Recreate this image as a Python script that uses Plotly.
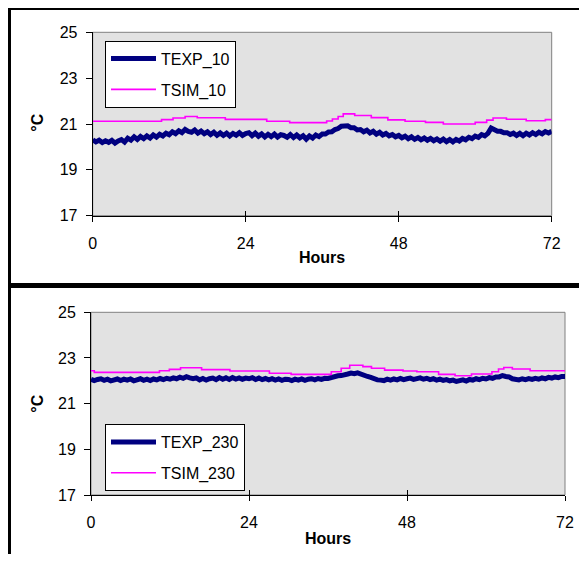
import plotly.graph_objects as go

# page body has an 8px default margin; figure is sized so the page fits the window
OX, OY = 8, 8
W, H = 579, 546

# ---------------- data ----------------
hours = [0.5 * i for i in range(145)]

texp_10 = [
    20.31, 20.22, 20.29, 20.19, 20.27, 20.20, 20.29, 20.17, 20.26, 20.32, 20.21, 20.38,
    20.30, 20.44, 20.33, 20.46, 20.36, 20.48, 20.39, 20.52, 20.43, 20.55, 20.48, 20.60,
    20.53, 20.66, 20.58, 20.70, 20.62, 20.76, 20.68, 20.64, 20.74, 20.60, 20.69, 20.58,
    20.66, 20.54, 20.64, 20.51, 20.61, 20.50, 20.60, 20.48, 20.59, 20.51, 20.62, 20.50,
    20.58, 20.62, 20.49, 20.60, 20.47, 20.57, 20.44, 20.55, 20.45, 20.56, 20.43, 20.53,
    20.50, 20.42, 20.54, 20.41, 20.52, 20.40, 20.49, 20.34, 20.48, 20.39, 20.52, 20.45,
    20.56, 20.56, 20.65, 20.66, 20.76, 20.80, 20.90, 20.93, 20.92, 20.84, 20.84, 20.74,
    20.76, 20.66, 20.73, 20.61, 20.68, 20.56, 20.64, 20.52, 20.59, 20.48, 20.54, 20.44,
    20.50, 20.40, 20.47, 20.36, 20.44, 20.33, 20.41, 20.31, 20.39, 20.29, 20.37, 20.27,
    20.35, 20.25, 20.34, 20.23, 20.32, 20.22, 20.33, 20.26, 20.37, 20.31, 20.42, 20.36,
    20.47, 20.42, 20.54, 20.48, 20.59, 20.82, 20.76, 20.68, 20.68, 20.62, 20.62, 20.54,
    20.60, 20.50, 20.59, 20.49, 20.60, 20.52, 20.62, 20.54, 20.64, 20.57, 20.67, 20.61,
    20.68,
]

texp_230 = [
    22.07, 22.01, 22.06, 22.09, 22.02, 22.07, 22.00, 22.06, 22.08, 22.01, 22.07, 22.03,
    22.08, 22.00, 22.06, 22.09, 22.02, 22.07, 22.01, 22.08, 22.04, 22.10, 22.05, 22.11,
    22.07, 22.13, 22.09, 22.16, 22.11, 22.18, 22.13, 22.09, 22.13, 22.04, 22.10, 22.03,
    22.09, 22.12, 22.05, 22.14, 22.07, 22.13, 22.06, 22.14, 22.08, 22.13, 22.07, 22.12,
    22.09, 22.14, 22.06, 22.12, 22.05, 22.10, 22.04, 22.09, 22.03, 22.08, 22.02, 22.07,
    22.06, 22.01, 22.07, 22.03, 22.08, 22.02, 22.07, 22.09, 22.04, 22.10, 22.06, 22.11,
    22.10, 22.15, 22.16, 22.22, 22.23, 22.29, 22.30, 22.34, 22.31, 22.35, 22.28, 22.27,
    22.19, 22.15, 22.07, 22.04, 22.03, 22.01, 22.07, 22.03, 22.08, 22.04, 22.10, 22.05,
    22.09, 22.12, 22.06, 22.11, 22.13, 22.07, 22.11, 22.05, 22.09, 22.03, 22.07, 22.02,
    22.05, 22.00, 22.03, 21.97, 22.02, 22.04, 21.99, 22.06, 22.03, 22.09, 22.05, 22.11,
    22.08, 22.14, 22.11, 22.17, 22.17, 22.23, 22.19, 22.17, 22.09, 22.04, 22.04, 22.09,
    22.05, 22.10, 22.06, 22.11, 22.07, 22.13, 22.09, 22.15, 22.12, 22.17, 22.14, 22.19,
    22.19,
]

tsim_10_t = [0, 10.8, 12.6, 14.5, 16.4, 20.8, 27.3, 30.9, 36.7, 37.6, 38.5, 39.3,
             41.1, 43.7, 46.3, 49.0, 52.2, 55.0, 60.0, 61.8, 62.8, 64.9, 68.0, 71.0, 72.0]
tsim_10_v = [21.12, 21.19, 21.26, 21.33, 21.27, 21.20, 21.12, 21.06, 21.13, 21.22, 21.33, 21.44,
             21.37, 21.28, 21.18, 21.12, 21.07, 21.00, 21.07, 21.17, 21.26, 21.21, 21.14, 21.19, 21.19]

tsim_230_t = [0, 0.5, 10.4, 11.9, 13.6, 16.8, 21.1, 27.1, 30.4, 36.5, 38.0, 39.3, 41.3,
              42.6, 44.6, 47.4, 49.5, 52.8, 55.3, 57.8, 60.9, 61.9, 62.7, 64.0, 66.7, 72.0]
tsim_230_v = [22.44, 22.37, 22.44, 22.50, 22.57, 22.49, 22.43, 22.33, 22.28, 22.40, 22.55, 22.68, 22.62,
              22.55, 22.47, 22.43, 22.40, 22.28, 22.22, 22.30, 22.40, 22.52, 22.58, 22.52, 22.44, 22.44]

x_ticks = [0, 24, 48, 72]
y_ticks = [17, 19, 21, 23, 25]

NAVY = "#000080"
MAGENTA = "#FF00FF"
BG = "#e2e2e2"
FONT = "Liberation Sans, Arial, sans-serif"

fig = go.Figure()

fig.add_trace(go.Scatter(x=hours, y=texp_10, name="TEXP_10", mode="lines",
                         line=dict(color=NAVY, width=5), xaxis="x", yaxis="y",
                         legend="legend", legendgroup="a"))
fig.add_trace(go.Scatter(x=tsim_10_t, y=tsim_10_v, name="TSIM_10", mode="lines",
                         line=dict(color=MAGENTA, width=1.6, shape="hv"), xaxis="x", yaxis="y",
                         legend="legend", legendgroup="b"))
fig.add_trace(go.Scatter(x=hours, y=texp_230, name="TEXP_230", mode="lines",
                         line=dict(color=NAVY, width=5), xaxis="x2", yaxis="y2",
                         legend="legend2", legendgroup="c"))
fig.add_trace(go.Scatter(x=tsim_230_t, y=tsim_230_v, name="TSIM_230", mode="lines",
                         line=dict(color=MAGENTA, width=1.6, shape="hv"), xaxis="x2", yaxis="y2",
                         legend="legend2", legendgroup="d"))
# empty traces to activate the overlay axes (inner half of crossing ticks)
fig.add_trace(go.Scatter(x=[], y=[], xaxis="x3", yaxis="y", showlegend=False))
fig.add_trace(go.Scatter(x=[], y=[], xaxis="x4", yaxis="y2", showlegend=False))


def px_x(p):
    return (p - OX) / W


def px_y(p):
    return 1 - (p - OY) / H


top_dom_x = [px_x(92.7), px_x(551.7)]
top_dom_y = [px_y(215.7), px_y(32.3)]
bot_dom_x = [px_x(91), px_x(565)]
bot_dom_y = [px_y(495), px_y(312.3)]

tickfont = dict(family=FONT, size=16, color="black")

xcommon = dict(range=[0, 72], tickvals=x_ticks, ticks="outside", ticklen=5, tickcolor="black",
               showline=True, linecolor="black", linewidth=1, showgrid=False, zeroline=False,
               tickfont=tickfont, ticklabelstandoff=8, fixedrange=True, automargin=False)
ycommon = dict(range=[17, 25], tickvals=y_ticks, ticks="outside", ticklen=6, tickcolor="black",
               showline=True, linecolor="black", linewidth=1, showgrid=False, zeroline=False,
               tickfont=tickfont, ticklabelstandoff=5, fixedrange=True, automargin=False)
xinner = dict(range=[0, 72], tickvals=x_ticks, ticks="inside", ticklen=5, tickcolor="black",
              showline=False, showgrid=False, zeroline=False, showticklabels=False,
              fixedrange=True, automargin=False)

legcommon = dict(bgcolor="white", bordercolor="black", borderwidth=1,
                 font=dict(family=FONT, size=16, color="black"),
                 tracegroupgap=7, itemwidth=45, xanchor="left", yanchor="top")

fig.update_layout(
    width=W, height=H,
    margin=dict(l=0, r=0, t=0, b=0, pad=0),
    paper_bgcolor="white", plot_bgcolor=BG,
    xaxis=dict(domain=top_dom_x, anchor="y", **xcommon),
    yaxis=dict(domain=top_dom_y, anchor="x", **ycommon),
    xaxis2=dict(domain=bot_dom_x, anchor="y2", **xcommon),
    yaxis2=dict(domain=bot_dom_y, anchor="x2", **ycommon),
    xaxis3=dict(overlaying="x", anchor="y", **xinner),
    xaxis4=dict(overlaying="x2", anchor="y2", **xinner),
    legend=dict(x=px_x(105), y=px_y(40.7), **legcommon),
    legend2=dict(x=px_x(105), y=px_y(424), **legcommon),
    showlegend=True,
)

shapes = []
# gray frame of each plot area (top and right edges)
for xr, yr in (("x domain", "y domain"), ("x2 domain", "y2 domain")):
    shapes.append(dict(type="rect", xref=xr, yref=yr, x0=0, x1=1, y0=0, y1=1,
                       line=dict(color="#808080", width=1), layer="below"))
# outer panel borders
shapes.append(dict(type="rect", xref="paper", yref="paper",
                   x0=px_x(9.5), x1=px_x(585.5), y0=px_y(284.5), y1=px_y(8.5),
                   line=dict(color="black", width=3)))
shapes.append(dict(type="rect", xref="paper", yref="paper",
                   x0=px_x(9.5), x1=px_x(585.5), y0=-0.05, y1=px_y(286.5),
                   line=dict(color="black", width=3)))
fig.update_layout(shapes=shapes)

titlefont = dict(family=FONT, size=16, color="black")
annotations = [
    dict(text="<b>°C</b>", x=px_x(36.7), y=px_y(123), xref="paper", yref="paper",
         textangle=-90, showarrow=False, font=titlefont, xanchor="center", yanchor="middle"),
    dict(text="<b>°C</b>", x=px_x(36.7), y=px_y(404), xref="paper", yref="paper",
         textangle=-90, showarrow=False, font=titlefont, xanchor="center", yanchor="middle"),
    dict(text="<b>Hours</b>", x=px_x(322), y=px_y(257.5), xref="paper", yref="paper",
         showarrow=False, font=titlefont, xanchor="center", yanchor="middle"),
    dict(text="<b>Hours</b>", x=px_x(327.7), y=px_y(538.5), xref="paper", yref="paper",
         showarrow=False, font=titlefont, xanchor="center", yanchor="middle"),
]
fig.update_layout(annotations=annotations)

fig.write_html("out.html")
